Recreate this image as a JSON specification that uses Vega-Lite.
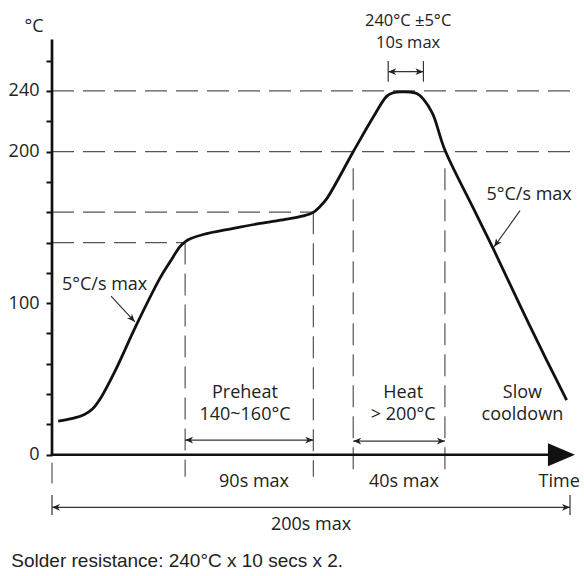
{
  "$schema": "https://vega.github.io/schema/vega-lite/v6.json",
  "width": 532,
  "height": 576,
  "autosize": {"type": "none"},
  "padding": {"left": 52, "top": 0, "right": 0, "bottom": 0},
  "background": "white",
  "config": {"view": {"stroke": null}},
  "datasets": {
    "profile": [
      {"t": 2.4, "T": 22.2}, {"t": 8, "T": 24}, {"t": 12.5, "T": 26.6}, {"t": 15.5, "T": 30},
      {"t": 19, "T": 38}, {"t": 24, "T": 54}, {"t": 32.7, "T": 86}, {"t": 41.7, "T": 116.5},
      {"t": 45.6, "T": 127.3}, {"t": 49.4, "T": 137.3}, {"t": 51.4, "T": 140.5}, {"t": 53.6, "T": 142.6},
      {"t": 58.4, "T": 145.3}, {"t": 70, "T": 149.3}, {"t": 80.3, "T": 152.6}, {"t": 90, "T": 155.3},
      {"t": 97, "T": 157.6}, {"t": 100.9, "T": 159.9}, {"t": 103.3, "T": 163.5}, {"t": 106.1, "T": 169},
      {"t": 116.3, "T": 199.9}, {"t": 124.1, "T": 223}, {"t": 129.3, "T": 236.6}, {"t": 131.8, "T": 238.8},
      {"t": 135, "T": 239.4}, {"t": 138.5, "T": 239.2}, {"t": 141, "T": 238.2}, {"t": 143.3, "T": 234.8},
      {"t": 146.9, "T": 225.2}, {"t": 151.7, "T": 201}, {"t": 162.7, "T": 162.5}, {"t": 170.4, "T": 135.8},
      {"t": 180.7, "T": 98.5}, {"t": 191, "T": 62.3}, {"t": 198.7, "T": 36.1}
    ],
    "guides_h": [
      {"T": 240, "t": 0, "t2": 200},
      {"T": 200, "t": 0, "t2": 200},
      {"T": 160, "t": 0, "t2": 100.9},
      {"T": 140, "t": 0, "t2": 51.4}
    ],
    "guides_v": [
      {"t": 51.4, "T": 140, "T2": -14.5},
      {"t": 100.9, "T": 160, "T2": -14.5},
      {"t": 116.3, "T": 189, "T2": -14.5},
      {"t": 151.7, "T": 189, "T2": -14.5},
      {"t": 0, "T": -5.3, "T2": -18.9}
    ],
    "dims": [
      {"t": 51.4, "T": 9.7, "t2": 100.9, "T2": 9.7},
      {"t": 116.3, "T": 9.0, "t2": 151.7, "T2": 9.0},
      {"t": 129.8, "T": 252.7, "t2": 143.4, "T2": 252.7},
      {"t": 129.8, "T": 246.1, "t2": 129.8, "T2": 259.7},
      {"t": 143.4, "T": 246.1, "t2": 143.4, "T2": 259.7},
      {"t": 0, "T": -34.7, "t2": 200, "T2": -34.7},
      {"t": 0, "T": -26.6, "t2": 0, "T2": -39.8},
      {"t": 200, "T": -26.6, "t2": 200, "T2": -39.8},
      {"t": 22.8, "T": 104.6, "t2": 32.0, "T2": 87.7},
      {"t": 180.7, "T": 161, "t2": 170.7, "T2": 137.2}
    ],
    "axes": [
      {"t": 0, "T": 0, "t2": 0, "T2": 274},
      {"t": -0.5, "T": 0, "t2": 193, "T2": 0}
    ],
    "heads": [
      {"t": 100.9, "T": 9.7, "points": "right"},
      {"t": 151.7, "T": 9.0, "points": "right"},
      {"t": 143.4, "T": 252.7, "points": "right"},
      {"t": 200, "T": -34.7, "points": "right"},
      {"t": 51.4, "T": 9.7, "points": "left"},
      {"t": 116.3, "T": 9.0, "points": "left"},
      {"t": 129.8, "T": 252.7, "points": "left"},
      {"t": 0, "T": -34.7, "points": "left"},
      {"t": 32.0, "T": 87.7, "points": "downright"},
      {"t": 170.7, "T": 137.2, "points": "downleft"}
    ],
    "axis_tip": [{"t": 196.7, "T": 0}],
    "peak_labels": [
      {"t": 137.5, "T": 286.2, "label": "240°C ±5°C"},
      {"t": 137.5, "T": 271.4, "label": "10s max"}
    ],
    "labels": [
      {"t": -6.9, "T": 282.2, "label": "°C"},
      {"t": 20.3, "T": 112, "label": "5°C/s max"},
      {"t": 184.2, "T": 171.3, "label": "5°C/s max"},
      {"t": 74.5, "T": 40.7, "label": "Preheat"},
      {"t": 74.5, "T": 26.5, "label": "140~160°C"},
      {"t": 135.6, "T": 40.7, "label": "Heat"},
      {"t": 135.6, "T": 26.5, "label": "> 200°C"},
      {"t": 181.6, "T": 40.7, "label": "Slow"},
      {"t": 181.6, "T": 26.5, "label": "cooldown"},
      {"t": 78, "T": -17.8, "label": "90s max"},
      {"t": 135.9, "T": -17.8, "label": "40s max"},
      {"t": 195.8, "T": -17.8, "label": "Time"},
      {"t": 100, "T": -46.5, "label": "200s max"}
    ],
    "note": [{"t": -15.7, "T": -69.8, "label": "Solder resistance: 240°C x 10 secs x 2."}]
  },
  "encoding": {
    "x": {"field": "t", "type": "quantitative", "scale": {"domain": [0, 205.4], "nice": false, "zero": false}, "axis": null},
    "y": {
      "field": "T", "type": "quantitative",
      "scale": {"domain": [-80, 300], "nice": false, "zero": false},
      "axis": {
        "title": null, "domain": false, "grid": false,
        "values": [0, 20, 40, 60, 80, 100, 120, 140, 160, 180, 200, 220, 240, 260],
        "labelExpr": "datum.value == 0 || datum.value == 100 || datum.value == 200 || datum.value == 240 ? datum.label : ''",
        "tickSize": 6, "tickWidth": 2, "tickColor": "#111",
        "labelFont": "Open Sans", "labelFontSize": 18, "labelColor": "#222", "labelPadding": 7
      }
    }
  },
  "layer": [
    {
      "data": {"name": "guides_h"},
      "mark": {"type": "rule", "stroke": "#555", "strokeWidth": 1.2, "strokeDash": [22, 9]},
      "encoding": {"x2": {"field": "t2"}}
    },
    {
      "data": {"name": "guides_v"},
      "mark": {"type": "rule", "stroke": "#555", "strokeWidth": 1.2, "strokeDash": [22, 9]},
      "encoding": {"y2": {"field": "T2"}}
    },
    {
      "data": {"name": "dims"},
      "mark": {"type": "rule", "stroke": "#333", "strokeWidth": 1.2},
      "encoding": {"x2": {"field": "t2"}, "y2": {"field": "T2"}}
    },
    {
      "data": {"name": "axes"},
      "mark": {"type": "rule", "stroke": "#111", "strokeWidth": 2.7},
      "encoding": {"x2": {"field": "t2"}, "y2": {"field": "T2"}}
    },
    {
      "data": {"name": "profile"},
      "mark": {"type": "line", "color": "#111", "strokeWidth": 2.8, "interpolate": "catmull-rom"}
    },
    {
      "data": {"name": "heads"},
      "transform": [{"filter": "datum.points == 'right'"}],
      "mark": {"type": "point", "shape": "M0,0L-1,-0.42L-0.72,0L-1,0.42Z", "size": 256, "filled": true, "color": "#222", "opacity": 1, "angle": 0}
    },
    {
      "data": {"name": "heads"},
      "transform": [{"filter": "datum.points == 'left'"}],
      "mark": {"type": "point", "shape": "M0,0L-1,-0.42L-0.72,0L-1,0.42Z", "size": 256, "filled": true, "color": "#222", "opacity": 1, "angle": 180}
    },
    {
      "data": {"name": "heads"},
      "transform": [{"filter": "datum.points == 'downright'"}],
      "mark": {"type": "point", "shape": "M0,0L-1,-0.42L-0.72,0L-1,0.42Z", "size": 256, "filled": true, "color": "#222", "opacity": 1, "angle": 47}
    },
    {
      "data": {"name": "heads"},
      "transform": [{"filter": "datum.points == 'downleft'"}],
      "mark": {"type": "point", "shape": "M0,0L-1,-0.42L-0.72,0L-1,0.42Z", "size": 256, "filled": true, "color": "#222", "opacity": 1, "angle": 126}
    },
    {
      "data": {"name": "axis_tip"},
      "mark": {"type": "point", "shape": "M-1,-0.85L1,0L-1,0.85Z", "size": 729, "filled": true, "color": "#111", "opacity": 1}
    },
    {
      "data": {"name": "peak_labels"},
      "mark": {"type": "text", "font": "Open Sans", "fontSize": 16.5, "color": "#222", "align": "center", "baseline": "middle"},
      "encoding": {"text": {"field": "label"}}
    },
    {
      "data": {"name": "labels"},
      "mark": {"type": "text", "font": "Open Sans", "fontSize": 18, "color": "#222", "align": "center", "baseline": "middle"},
      "encoding": {"text": {"field": "label"}}
    },
    {
      "data": {"name": "note"},
      "mark": {"type": "text", "font": "Liberation Sans", "fontSize": 19, "color": "#222", "align": "left", "baseline": "middle"},
      "encoding": {"text": {"field": "label"}}
    }
  ]
}
